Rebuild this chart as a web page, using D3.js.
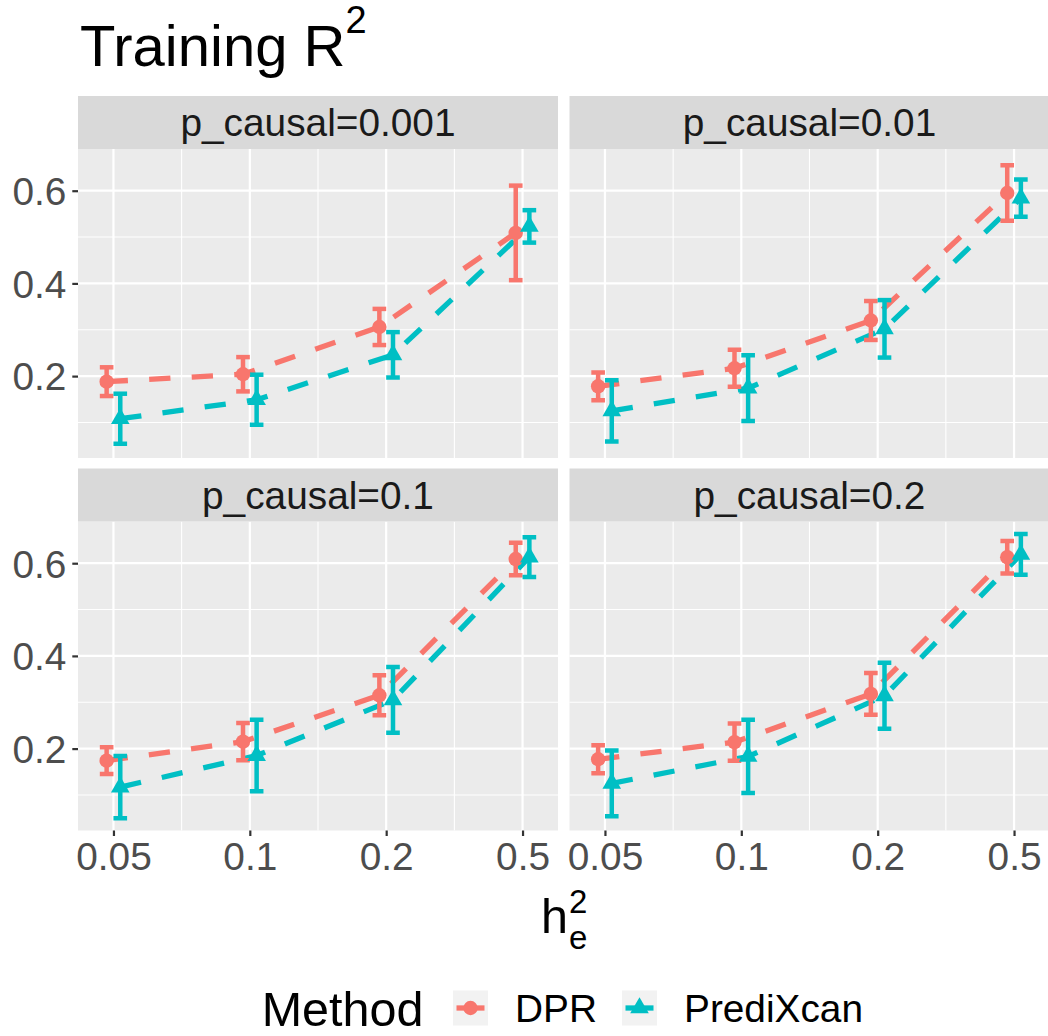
<!DOCTYPE html>
<html><head><meta charset="utf-8">
<script src="https://cdn.jsdelivr.net/npm/d3@7"></script>
<style>body{margin:0;background:#fff} text{font-family:"Liberation Sans",Arial,Helvetica,sans-serif}</style>
</head><body><svg id="c" width="1048" height="1036"></svg>
<script>
// ---- data ----
const hLabels = ["0.05", "0.1", "0.2", "0.5"];
const methods = ["DPR", "PrediXcan"];
const methodColors = ["#F8766D", "#00BFC4"];
const panelLabels = ["p_causal=0.001", "p_causal=0.01", "p_causal=0.1", "p_causal=0.2"];
const yTicks = [0.2, 0.4, 0.6];
const yMinor = [0.1, 0.3, 0.5];
const dprMean = [[0.188, 0.204, 0.306, 0.509], [0.178, 0.217, 0.320, 0.595], [0.174, 0.215, 0.315, 0.609], [0.177, 0.214, 0.318, 0.613]];
const dprErr  = [[0.031, 0.037, 0.039, 0.102], [0.030, 0.040, 0.042, 0.060], [0.029, 0.040, 0.043, 0.035], [0.030, 0.040, 0.045, 0.035]];
const predMean = [[0.108, 0.149, 0.246, 0.523], [0.125, 0.174, 0.302, 0.584], [0.117, 0.185, 0.305, 0.613], [0.125, 0.183, 0.314, 0.619]];
const predErr  = [[0.054, 0.054, 0.049, 0.035], [0.066, 0.071, 0.062, 0.040], [0.067, 0.077, 0.071, 0.043], [0.071, 0.079, 0.071, 0.044]];

// ---- layout ----
const svg = d3.select("#c");
const panelX = [78, 569.5], stripY = [96, 468.5];
const stripH = 53, panelW = 480, panelH = 309;
const x = d3.scaleLinear().domain([0.74, 4.26]).range([0, panelW]);
const y = d3.scaleLinear().domain([0.0233, 0.690]).range([panelH, 0]);
const dodge = [-0.05, 0.05];
const axisFont = 38.8, baseFont = 48.5;

// title
const title = svg.append("text").attr("x", 80).attr("y", 65.7).attr("font-size", 58).attr("fill", "#000").text("Training R");
title.append("tspan").attr("dy", -32.7).attr("font-size", 38).text("2");

panelLabels.forEach((lab, p) => {
  const col = p % 2, row = Math.floor(p / 2);
  const px = panelX[col], sy = stripY[row], py = sy + stripH;
  const g = svg.append("g").attr("transform", `translate(${px},${py})`);
  // strip
  svg.append("rect").attr("x", px).attr("y", sy).attr("width", panelW).attr("height", stripH).attr("fill", "#D9D9D9");
  svg.append("text").attr("x", px + panelW / 2).attr("y", sy + stripH / 2).attr("dy", "0.36em")
    .attr("text-anchor", "middle").attr("font-size", axisFont).attr("fill", "#1A1A1A").text(lab);
  // panel bg
  g.append("rect").attr("width", panelW).attr("height", panelH).attr("fill", "#EBEBEB");
  const clipId = "clip" + p;
  g.append("clipPath").attr("id", clipId).append("rect").attr("width", panelW).attr("height", panelH);
  const grid = g.append("g");
  // minor grid
  yMinor.forEach(v => grid.append("line").attr("x1", 0).attr("x2", panelW).attr("y1", y(v)).attr("y2", y(v)).attr("stroke", "#fff").attr("stroke-width", 1.1));
  [1.5, 2.5, 3.5].forEach(v => grid.append("line").attr("y1", 0).attr("y2", panelH).attr("x1", x(v)).attr("x2", x(v)).attr("stroke", "#fff").attr("stroke-width", 1.1));
  // major grid
  yTicks.forEach(v => grid.append("line").attr("x1", 0).attr("x2", panelW).attr("y1", y(v)).attr("y2", y(v)).attr("stroke", "#fff").attr("stroke-width", 2.2));
  [1, 2, 3, 4].forEach(v => grid.append("line").attr("y1", 0).attr("y2", panelH).attr("x1", x(v)).attr("x2", x(v)).attr("stroke", "#fff").attr("stroke-width", 2.2));

  const plot = g.append("g").attr("clip-path", `url(#${clipId})`);
  const series = [
    { m: 0, mean: dprMean[p], err: dprErr[p] },
    { m: 1, mean: predMean[p], err: predErr[p] }
  ];
  // lines
  series.forEach(s => {
    const pts = s.mean.map((v, i) => [x(i + 1 + dodge[s.m]), y(v)]);
    plot.append("path").attr("d", d3.line()(pts)).attr("fill", "none")
      .attr("stroke", methodColors[s.m]).attr("stroke-width", 5.3).attr("stroke-dasharray", "21.3,21.3");
  });
  // error bars
  series.forEach(s => {
    s.mean.forEach((v, i) => {
      const cx = i + 1 + dodge[s.m];
      const lo = v - s.err[i], hi = v + s.err[i];
      const eg = plot.append("g").attr("stroke", methodColors[s.m]).attr("stroke-width", 4.5).attr("fill", "none");
      eg.append("line").attr("x1", x(cx)).attr("x2", x(cx)).attr("y1", y(lo)).attr("y2", y(hi));
      eg.append("line").attr("x1", x(cx - 0.05)).attr("x2", x(cx + 0.05)).attr("y1", y(lo)).attr("y2", y(lo));
      eg.append("line").attr("x1", x(cx - 0.05)).attr("x2", x(cx + 0.05)).attr("y1", y(hi)).attr("y2", y(hi));
    });
  });
  // points
  series.forEach(s => {
    s.mean.forEach((v, i) => {
      const cx = x(i + 1 + dodge[s.m]), cy = y(v);
      if (s.m === 0) {
        plot.append("circle").attr("cx", cx).attr("cy", cy).attr("r", 7.2).attr("fill", methodColors[0]);
      } else {
        plot.append("path").attr("d", d3.symbol(d3.symbolTriangle, 150)()).attr("transform", `translate(${cx},${cy})`).attr("fill", methodColors[1]);
      }
    });
  });

  // axes
  if (col === 0) {
    const ay = g.append("g").call(d3.axisLeft(y).tickValues(yTicks).tickSize(5.7).tickPadding(6).tickFormat(d3.format(".1f")));
    ay.select(".domain").remove();
    ay.selectAll("line").attr("stroke", "#333333").attr("stroke-width", 2.2);
    ay.selectAll("text").attr("font-size", axisFont).attr("fill", "#4D4D4D").attr("dy", "0.358em")
      .attr("font-family", '"Liberation Sans",Arial,sans-serif');
  }
  if (row === 1) {
    const ax = g.append("g").attr("transform", `translate(0,${panelH})`)
      .call(d3.axisBottom(x).tickValues([1, 2, 3, 4]).tickSize(5.5).tickPadding(6.7).tickFormat(d => hLabels[d - 1]));
    ax.select(".domain").remove();
    ax.selectAll("line").attr("stroke", "#333333").attr("stroke-width", 2.2);
    ax.selectAll("text").attr("font-size", axisFont).attr("fill", "#4D4D4D")
      .attr("font-family", '"Liberation Sans",Arial,sans-serif');
  }
});

// x-axis title h_e^2
const centerX = (panelX[0] + panelX[1] + panelW) / 2;
const hT = svg.append("text").attr("font-size", baseFont).attr("y", 933).text("h");
const hW = hT.node().getComputedTextLength();
const supW = 0.556 * 33;
const hx = centerX - (hW + supW) / 2;
hT.attr("x", hx);
svg.append("text").attr("x", hx + hW + 1).attr("y", 912.7).attr("font-size", 33).text("2");
svg.append("text").attr("x", hx + hW + 1).attr("y", 949).attr("font-size", 33).text("e");

// legend
const legY = 1008;
svg.append("text").attr("x", 261.7).attr("y", 1026.4).attr("font-size", baseFont).text("Method");
const keyX = [453, 622], labX = [515, 684];
methods.forEach((m, k) => {
  svg.append("rect").attr("x", keyX[k]).attr("y", legY - 17.5).attr("width", 35).attr("height", 35).attr("fill", "#F2F2F2");
  svg.append("line").attr("x1", keyX[k] + 3.5).attr("x2", keyX[k] + 31.5).attr("y1", legY).attr("y2", legY)
    .attr("stroke", methodColors[k]).attr("stroke-width", 5.3);
  if (k === 0) svg.append("circle").attr("cx", keyX[k] + 17.5).attr("cy", legY).attr("r", 7.2).attr("fill", methodColors[k]);
  else svg.append("path").attr("d", d3.symbol(d3.symbolTriangle, 150)()).attr("transform", `translate(${keyX[k] + 17.5},${legY})`).attr("fill", methodColors[k]);
  svg.append("text").attr("x", labX[k]).attr("y", 1021.7).attr("font-size", axisFont).text(m);
});
</script></body></html>
